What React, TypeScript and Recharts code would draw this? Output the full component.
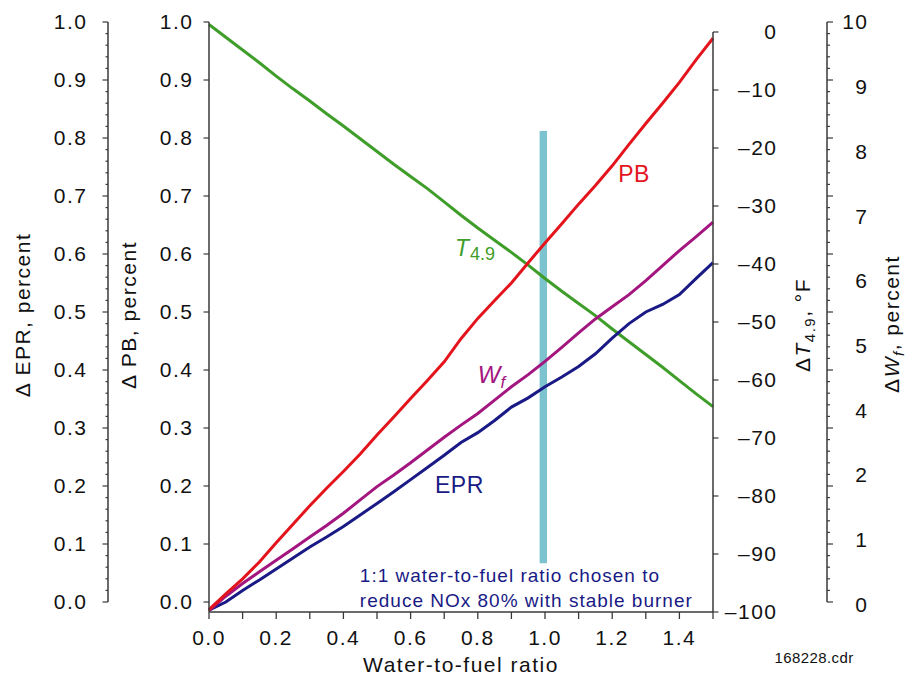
import React from 'react';
import { ComposedChart, Line, XAxis, YAxis, ReferenceArea, ReferenceDot } from 'recharts';

// ---------- data ----------
const WATER_FUEL = [0, 0.05, 0.1, 0.15, 0.2, 0.25, 0.3, 0.35, 0.4, 0.45, 0.5, 0.55, 0.6, 0.65, 0.7, 0.75, 0.8, 0.85, 0.9, 0.95, 1.0, 1.05, 1.1, 1.15, 1.2, 1.25, 1.3, 1.35, 1.4, 1.45, 1.5];
const PB = [-0.013, 0.014, 0.04, 0.069, 0.102, 0.134, 0.166, 0.196, 0.225, 0.255, 0.288, 0.319, 0.351, 0.382, 0.414, 0.454, 0.489, 0.52, 0.55, 0.585, 0.619, 0.652, 0.686, 0.718, 0.752, 0.789, 0.825, 0.86, 0.896, 0.935, 0.972];
const WF = [-0.15, 0.1, 0.32, 0.52, 0.72, 0.92, 1.12, 1.32, 1.53, 1.76, 1.99, 2.19, 2.4, 2.62, 2.84, 3.05, 3.25, 3.48, 3.71, 3.92, 4.15, 4.39, 4.64, 4.88, 5.09, 5.3, 5.54, 5.8, 6.06, 6.3, 6.55];
const EPR = [-0.014, 0.0, 0.02, 0.038, 0.057, 0.076, 0.095, 0.112, 0.13, 0.15, 0.17, 0.19, 0.211, 0.232, 0.253, 0.275, 0.292, 0.313, 0.336, 0.352, 0.371, 0.388, 0.406, 0.428, 0.455, 0.48, 0.5, 0.513, 0.53, 0.558, 0.585];
const T49 = [1.3, -0.9, -3.1, -5.3, -7.6, -9.8, -11.9, -14.1, -16.2, -18.4, -20.6, -22.8, -24.9, -27.0, -29.3, -31.6, -33.8, -35.9, -38.0, -40.2, -42.5, -44.7, -46.8, -48.9, -51.2, -53.4, -55.6, -57.8, -60.1, -62.4, -64.6];

// ---------- ticks ----------
const X_TICKS = [0, 0.1, 0.2, 0.3, 0.4, 0.5, 0.6, 0.7, 0.8, 0.9, 1.0, 1.1, 1.2, 1.3, 1.4, 1.5];
const X_TICK_LABELS = ['0.0', '', '0.2', '', '0.4', '', '0.6', '', '0.8', '', '1.0', '', '1.2', '', '1.4', ''];
const PB_TICKS = [0, 0.1, 0.2, 0.3, 0.4, 0.5, 0.6, 0.7, 0.8, 0.9, 1.0];
const EPR_TICKS = Array.from({ length: 51 }, (_, i) => i / 50);
const T_TICKS = [0, -10, -20, -30, -40, -50, -60, -70, -80, -90, -100];
const WF_TICKS = Array.from({ length: 51 }, (_, i) => i / 5);
const WF_LABEL_POS = [0, 1, 2, 3, 4, 5, 6, 7, 8, 9];
const WF_LABELS = ['0', '1', '2', '4', '5', '6', '7', '8', '9', '10'];

const data = WATER_FUEL.map((x, i) => ({ x, pb: PB[i], wf: WF[i], epr: EPR[i], t: T49[i] }));

// ---------- styles ----------
const FONT = '"Liberation Sans", Arial, Helvetica, sans-serif';
const AXIS = '#3a3a3a';
const TXT = '#111111';
const RED = '#e3141c';
const PURPLE = '#a3167f';
const NAVY = '#191a85';
const GREEN = '#3f9d2a';
const BAR = '#7dc3cf';
const FS = 21;
const LS = 1.5;

const isMult = (v: number, step: number) => Math.abs(v / step - Math.round(v / step)) < 1e-6;

const XTick = (p: any) => {
  const { x, y, index } = p;
  const lab = X_TICK_LABELS[index];
  return (
    <g>
      <line x1={x} x2={x} y1={y} y2={y + 7} stroke={AXIS} strokeWidth={1.3} />
      {lab ? (
        <text x={x} y={y + 26} dy="0.355em" textAnchor="middle" fontFamily={FONT} fontSize={FS} letterSpacing={LS} fill={TXT}>{lab}</text>
      ) : null}
    </g>
  );
};

const EprTick = (p: any) => {
  const { x, y, payload } = p;
  const v = payload.value;
  const major = isMult(v, 0.1);
  return (
    <g>
      <line x1={x} x2={x - (major ? 5.5 : 2.5)} y1={y} y2={y} stroke={AXIS} strokeWidth={1.2} />
      {major ? (
        <text x={x - 20.5} y={y} dy="0.355em" textAnchor="end" fontFamily={FONT} fontSize={FS} letterSpacing={LS} fill={TXT}>{v.toFixed(1)}</text>
      ) : null}
    </g>
  );
};

const PbTick = (p: any) => {
  const { x, y, payload } = p;
  return (
    <g>
      <line x1={x} x2={x - 5.5} y1={y} y2={y} stroke={AXIS} strokeWidth={1.2} />
      <text x={x - 15.5} y={y} dy="0.355em" textAnchor="end" fontFamily={FONT} fontSize={FS} letterSpacing={LS} fill={TXT}>{payload.value.toFixed(1)}</text>
    </g>
  );
};

const TTick = (p: any) => {
  const { x, y, payload } = p;
  const v = payload.value;
  const lab = v === 0 ? '0' : '\u2013' + String(Math.abs(v));
  return (
    <g>
      <line x1={x} x2={x + 5.5} y1={y} y2={y} stroke={AXIS} strokeWidth={1.2} />
      <text x={x + 64.5} y={y} dy="0.355em" textAnchor="end" fontFamily={FONT} fontSize={FS} letterSpacing={LS} fill={TXT}>{lab}</text>
    </g>
  );
};

const WfTick = (p: any) => {
  const { x, y, payload } = p;
  const major = isMult(payload.value, 1);
  return (
    <g>
      <line x1={x} x2={x + (major ? 6 : 3)} y1={y} y2={y} stroke={AXIS} strokeWidth={1.2} />
    </g>
  );
};

const WfLabelTick = (p: any) => {
  const { x, y, index } = p;
  return (
    <g>
      <text x={x - 38.5} y={y} dy="0.355em" textAnchor="end" fontFamily={FONT} fontSize={FS} letterSpacing={LS} fill={TXT}>{WF_LABELS[index]}</text>
    </g>
  );
};

const rotTitle = (cx: number, cy: number, children: React.ReactNode) => (
  <text x={cx} y={cy} dy="0.355em" transform={`rotate(-90 ${cx} ${cy})`} textAnchor="middle" fontFamily={FONT} fontSize={FS} letterSpacing={LS} fill={TXT}>
    {children}
  </text>
);

const EprTitle = (p: any) => {
  const vb = p.viewBox;
  return rotTitle(vb.x + 23, vb.y + vb.height / 2 - 2, '\u0394 EPR, percent');
};
const PbTitle = (p: any) => {
  const vb = p.viewBox;
  return rotTitle(vb.x + 21, vb.y + vb.height / 2 - 2, '\u0394 PB, percent');
};
const TTitle = (p: any) => {
  const vb = p.viewBox;
  return rotTitle(vb.x + 90, vb.y + vb.height / 2 + 8, [
    <tspan key="a">{'\u0394'}</tspan>,
    <tspan key="b" fontStyle="italic">T</tspan>,
    <tspan key="c" fontSize={15} dy={5}>4.9</tspan>,
    <tspan key="d" dy={-5}>, °F</tspan>,
  ]);
};
const WfTitle = (p: any) => {
  const vb = p.viewBox;
  return rotTitle(vb.x + 65, vb.y + vb.height / 2 + 7, [
    <tspan key="a">{'\u0394'}</tspan>,
    <tspan key="b" fontStyle="italic">W</tspan>,
    <tspan key="c" fontStyle="italic" fontSize={15} dy={5}>f</tspan>,
    <tspan key="d" dy={-5}>, percent</tspan>,
  ]);
};

const XTitle = (p: any) => {
  const vb = p.viewBox;
  return (
    <g>
      <text x={vb.x + vb.width / 2} y={vb.y + 60} textAnchor="middle" fontFamily={FONT} fontSize={FS} letterSpacing={LS} fill={TXT}>Water-to-fuel ratio</text>
      <text x={vb.x + vb.width + 101} y={vb.y + 51} textAnchor="middle" fontFamily={FONT} fontSize={15} letterSpacing={0.4} fill={TXT}>168228.cdr</text>
    </g>
  );
};

export default function App() {
  return (
    <div style={{ position: 'absolute', left: 0, top: 0, width: 908, height: 681, background: '#fff' }}>
      <ComposedChart width={908} height={681} data={data} margin={{ top: 22, right: 0, bottom: 0, left: 0 }}>
        <XAxis
          dataKey="x"
          type="number"
          domain={[0, 1.5]}
          ticks={X_TICKS}
          interval={0}
          tickSize={0}
          tickMargin={0}
          tickLine={false}
          tick={XTick}
          axisLine={{ stroke: AXIS, strokeWidth: 1.5 }}
          height={69}
          label={XTitle}
        />
        <YAxis
          yAxisId="l1"
          orientation="left"
          type="number"
          domain={[-0.01724, 1]}
          allowDataOverflow
          ticks={PB_TICKS}
          interval={0}
          width={101}
          tickSize={0}
          tickMargin={0}
          tickLine={false}
          tick={PbTick}
          axisLine={{ stroke: AXIS, strokeWidth: 1.5 }}
          label={PbTitle}
        />
        <YAxis
          yAxisId="l2"
          orientation="left"
          type="number"
          domain={[-0.01724, 1]}
          allowDataOverflow
          ticks={EPR_TICKS}
          interval={0}
          width={108}
          tickSize={0}
          tickMargin={0}
          tickLine={false}
          tick={EprTick}
          axisLine={{ stroke: AXIS, strokeWidth: 1.5, strokeDasharray: '580 40' }}
          label={EprTitle}
        />
        <YAxis
          yAxisId="r1"
          orientation="right"
          type="number"
          domain={[-100, 1.724]}
          allowDataOverflow
          ticks={T_TICKS}
          interval={0}
          width={114}
          tickSize={0}
          tickMargin={0}
          tickLine={false}
          tick={TTick}
          axisLine={{ stroke: AXIS, strokeWidth: 1.5, strokeDasharray: '0 10 580 10' }}
          label={TTitle}
        />
        <YAxis
          yAxisId="r2"
          orientation="right"
          type="number"
          domain={[-0.1724, 10]}
          allowDataOverflow
          ticks={WF_TICKS}
          interval={0}
          width={80}
          tickSize={0}
          tickMargin={0}
          tickLine={false}
          tick={WfTick}
          axisLine={{ stroke: AXIS, strokeWidth: 1.5, strokeDasharray: '580 40' }}
          label={WfTitle}
        />
        <YAxis
          yAxisId="r3"
          orientation="right"
          type="number"
          domain={[-0.12, 9]}
          allowDataOverflow
          ticks={WF_LABEL_POS}
          interval={0}
          width={1}
          tickSize={0}
          tickMargin={0}
          tickLine={false}
          tick={WfLabelTick}
          axisLine={false}
        />

        <Line yAxisId="r1" dataKey="t" type="linear" stroke={GREEN} strokeWidth={3} dot={false} isAnimationActive={false} />
        <Line yAxisId="l2" dataKey="epr" type="linear" stroke={NAVY} strokeWidth={3} dot={false} isAnimationActive={false} />
        <Line yAxisId="r2" dataKey="wf" type="linear" stroke={PURPLE} strokeWidth={3} dot={false} isAnimationActive={false} />
        <Line yAxisId="l1" dataKey="pb" type="linear" stroke={RED} strokeWidth={3} dot={false} isAnimationActive={false} />

        <ReferenceArea yAxisId="l1" x1={0.984} x2={1.006} y1={0.067} y2={0.812} fill={BAR} fillOpacity={1} stroke="none" />

        <ReferenceDot yAxisId="l1" x={1.265} y={0.7247} r={0} shape={(p: any) => (
          <text x={p.cx} y={p.cy} textAnchor="middle" fontFamily={FONT} fontSize={23} letterSpacing={0.5} fill={RED}>PB</text>
        )} />
        <ReferenceDot yAxisId="r1" x={0.732} y={-38.6} r={0} shape={(p: any) => (
          <text x={p.cx} y={p.cy} fontFamily={FONT} fontSize={23} fill={GREEN}>
            <tspan fontStyle="italic">T</tspan>
            <tspan fontSize={18} dy={4} dx={1}>4.9</tspan>
          </text>
        )} />
        <ReferenceDot yAxisId="r2" x={0.8} y={3.78} r={0} shape={(p: any) => (
          <text x={p.cx} y={p.cy} fontFamily={FONT} fontSize={24} fill={PURPLE}>
            <tspan fontStyle="italic">W</tspan>
            <tspan fontStyle="italic" fontSize={17} dy={5}>f</tspan>
          </text>
        )} />
        <ReferenceDot yAxisId="l2" x={0.6726} y={0.1884} r={0} shape={(p: any) => (
          <text x={p.cx} y={p.cy} fontFamily={FONT} fontSize={23} letterSpacing={0.5} fill={NAVY}>EPR</text>
        )} />
        <ReferenceDot yAxisId="l1" x={0.449} y={0.0345} r={0} shape={(p: any) => (
          <text x={p.cx} y={p.cy} fontFamily={FONT} fontSize={19} letterSpacing={1} fill={NAVY}>
            <tspan x={p.cx}>1:1 water-to-fuel ratio chosen to</tspan>
            <tspan x={p.cx} dy={25}>reduce NOx 80% with stable burner</tspan>
          </text>
        )} />
      </ComposedChart>
    </div>
  );
}
